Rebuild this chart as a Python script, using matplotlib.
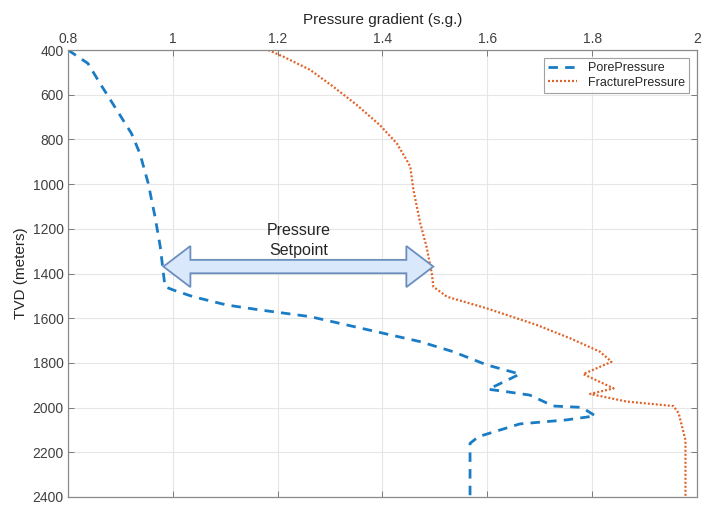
import matplotlib
matplotlib.use("Agg")
import matplotlib.pyplot as plt
from matplotlib.patches import Polygon

plt.rcParams['font.family'] = ['Liberation Sans', 'DejaVu Sans']

# ---- data ----
pore_grad = [0.800, 0.838, 0.861, 0.921, 0.937, 0.953, 0.966, 0.976, 0.982, 0.985,
             1.001, 1.039, 1.103, 1.166, 1.262, 1.472, 1.535, 1.599, 1.662, 1.602,
             1.637, 1.681, 1.726, 1.780, 1.806, 1.751, 1.662, 1.583, 1.567, 1.567]
pore_tvd = [400, 460, 549, 773, 862, 996, 1146, 1280, 1399, 1459,
            1474, 1504, 1541, 1563, 1593, 1705, 1750, 1809, 1850, 1918,
            1929, 1944, 1993, 1999, 2037, 2055, 2073, 2130, 2160, 2400]

frac_grad = [1.182, 1.211, 1.262, 1.306, 1.351, 1.395, 1.427, 1.446, 1.453, 1.459,
             1.472, 1.484, 1.494, 1.497, 1.523, 1.599, 1.694, 1.758, 1.815, 1.837,
             1.783, 1.841, 1.796, 1.866, 1.955, 1.965, 1.978, 1.978]
frac_tvd = [400, 430, 489, 564, 646, 736, 817, 892, 922, 1026,
            1175, 1280, 1399, 1459, 1504, 1556, 1630, 1690, 1750, 1795,
            1850, 1914, 1939, 1973, 1993, 2025, 2145, 2400]

x_ticks = [0.8, 1.0, 1.2, 1.4, 1.6, 1.8, 2.0]
x_ticklabels = ['0.8', '1', '1.2', '1.4', '1.6', '1.8', '2']
y_ticks = list(range(400, 2401, 200))

arrow_left = 0.982
arrow_right = 1.497
arrow_tvd = 1369
annot_text = "Pressure\nSetpoint"

# ---- figure ----
fig = plt.figure(figsize=(7.21, 5.30), dpi=100)
ax = fig.add_axes([68/721, 1 - 497/530, (697 - 68)/721, (497 - 50)/530])

ax.plot(pore_grad, pore_tvd, linestyle=(0, (3.4, 2.6)), color='#1a7cc4', lw=2.0,
        label='PorePressure')
ax.plot(frac_grad, frac_tvd, linestyle=(0, (0.9, 0.9)), color='#e0642a', lw=1.6,
        label='FracturePressure')

ax.set_xlim(0.8, 2.0)
ax.set_ylim(2400, 400)
ax.xaxis.tick_top()
ax.xaxis.set_label_position('top')
ax.set_xticks(x_ticks)
ax.set_xticklabels(x_ticklabels)
ax.set_yticks(y_ticks)
ax.tick_params(which='both', direction='in', top=True, bottom=True, left=True, right=True,
               labeltop=True, labelbottom=False, length=4, width=0.7, color='#7a7a7a',
               labelsize=10, labelcolor='#404040', pad=3)
for s in ax.spines.values():
    s.set_color('#8a8a8a')
    s.set_linewidth(0.9)
ax.grid(True, color='#e6e6e6', lw=0.8)
ax.set_axisbelow(True)
ax.set_xlabel('Pressure gradient (s.g.)', fontsize=11, color='#262626', labelpad=6)
ax.set_ylabel('TVD (meters)', fontsize=11, color='#262626', labelpad=3)

# double-headed block arrow (data coords)
head_len = 0.0515
body_h = 30
head_h = 92
verts = [
    (arrow_left, arrow_tvd),
    (arrow_left + head_len, arrow_tvd - head_h),
    (arrow_left + head_len, arrow_tvd - body_h),
    (arrow_right - head_len, arrow_tvd - body_h),
    (arrow_right - head_len, arrow_tvd - head_h),
    (arrow_right, arrow_tvd),
    (arrow_right - head_len, arrow_tvd + head_h),
    (arrow_right - head_len, arrow_tvd + body_h),
    (arrow_left + head_len, arrow_tvd + body_h),
    (arrow_left + head_len, arrow_tvd + head_h),
]
ax.add_patch(Polygon(verts, closed=True, facecolor='#dae8fc', edgecolor='#6c8ebf',
                     lw=1.3, zorder=5))
ax.text(1.24, 1252, annot_text, ha='center', va='center', fontsize=11.5,
        color='#262626', linespacing=1.38, zorder=6)

leg = ax.legend(loc='upper right', fontsize=9, frameon=True, fancybox=False,
                handlelength=2.3, borderpad=0.35, labelspacing=0.22, handletextpad=0.9,
                borderaxespad=0.6)
leg.get_frame().set_edgecolor('#8a8a8a')
leg.get_frame().set_linewidth(0.8)
for t in leg.get_texts():
    t.set_color('#262626')

fig.savefig('out.png', dpi=100)
